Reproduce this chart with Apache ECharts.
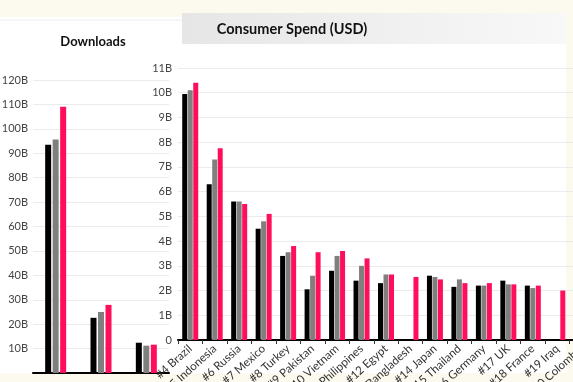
<!DOCTYPE html>
<html>
<head>
<meta charset="utf-8">
<script src="https://cdn.jsdelivr.net/npm/echarts@6/dist/echarts.min.js"></script>
<style>
html,body{margin:0;padding:0;background:#fcfaee;}
#chart{width:573px;height:382px;}
</style>
</head>
<body>
<div id="chart"></div>
<script>
// ---- Data ----
const seriesNames = ['2020', '2021', '2022'];
const seriesColors = ['#000000', '#7f7f7f', '#ff0f5b'];

// Downloads: top 3 markets (labels not visible in the reference)
const topCategories = ['#1', '#2', '#3'];
const topBlack = [93.5, 22.6, 12.4];
const topGrey  = [95.6, 25.0, 11.2];
const topPink  = [109.0, 27.9, 11.6];
const topTicks = [0, 120, 10];

// Markets #4 – #20
const restCategories = ['#4 Brazil', '#5 Indonesia', '#6 Russia', '#7 Mexico', '#8 Turkey',
  '#9 Pakistan', '#10 Vietnam', '#11 Philippines', '#12 Egypt', '#13 Bangladesh',
  '#14 Japan', '#15 Thailand', '#16 Germany', '#17 UK', '#18 France', '#19 Iraq', '#20 Colombia'];
const restBlack = [9.95, 6.3, 5.6, 4.5, 3.4, 2.05, 2.8, 2.4, 2.3, null, 2.6, 2.15, 2.2, 2.4, 2.2, null, null];
const restGrey  = [10.1, 7.3, 5.6, 4.8, 3.55, 2.6, 3.4, 3.0, 2.65, null, 2.55, 2.45, 2.2, 2.25, 2.1, null, null];
const restPink  = [10.4, 7.75, 5.5, 5.1, 3.8, 3.55, 3.6, 3.3, 2.65, 2.55, 2.45, 2.3, 2.3, 2.25, 2.2, 2.0, null];
const restTicks = [0, 11, 1];

const FONT = 'Lato, "Open Sans", sans-serif';

const chart = echarts.init(document.getElementById('chart'), null, {renderer: 'canvas'});

function mkSeries(data, idx, axisIdx, width, gap) {
  return {
    type: 'bar', name: seriesNames[idx], data: data,
    xAxisIndex: axisIdx, yAxisIndex: axisIdx,
    barWidth: width, barGap: gap,
    itemStyle: {color: seriesColors[idx]},
    emphasis: {disabled: true},
    z: 3
  };
}

const option = {
  backgroundColor: '#fcfaee',
  animation: false,
  textStyle: {fontFamily: FONT},
  graphic: [
    {type: 'rect', silent: true, z: -10, shape: {x: 0, y: 17, width: 566, height: 356}, style: {fill: '#ffffff'}},
    {type: 'rect', silent: true, z: -9, shape: {x: 182, y: 13, width: 384, height: 31},
     style: {fill: new echarts.graphic.LinearGradient(0, 0, 1, 0, [
       {offset: 0, color: '#e6e6e6'}, {offset: 0.6, color: '#f1f1f1'}, {offset: 1, color: '#f8f8f8'}])}},
    {type: 'line', silent: true, z: -9, shape: {x1: 0, y1: 20, x2: 182, y2: 20}, style: {stroke: '#ececec', lineWidth: 1}}
  ],
  title: [
    {text: 'Downloads', left: 88, top: 30, textAlign: 'center',
     textStyle: {fontFamily: FONT, fontSize: 13, fontWeight: 'bold', color: '#111'}},
    {text: 'Consumer Spend (USD)', left: 287, top: 17, textAlign: 'center',
     textStyle: {fontFamily: FONT, fontSize: 14.5, fontWeight: 'bold', color: '#111'}}
  ],
  grid: [
    {left: 33, width: 136, top: 80, bottom: 9, containLabel: false, outerBoundsMode: 'none'},
    {left: 178, width: 416, top: 68, bottom: 42, containLabel: false, outerBoundsMode: 'none'}
  ],
  xAxis: [
    {type: 'category', gridIndex: 0, data: topCategories,
     axisLine: {show: true, lineStyle: {color: '#000', width: 2}},
     axisTick: {show: false}, axisLabel: {show: false}},
    {type: 'category', gridIndex: 1, data: restCategories,
     axisLine: {show: true, lineStyle: {color: '#000', width: 2}},
     axisTick: {show: true, alignWithLabel: false, length: 4, lineStyle: {color: '#333'}},
     axisLabel: {show: true, rotate: 42, interval: 0, fontSize: 11.5, color: '#333', margin: 7, fontFamily: FONT}}
  ],
  yAxis: [
    {type: 'value', gridIndex: 0, min: topTicks[0], max: topTicks[1], interval: topTicks[2],
     axisLine: {show: false}, axisTick: {show: false},
     splitLine: {lineStyle: {color: '#ebebeb', width: 1}},
     axisLabel: {showMinLabel: false, fontSize: 11, color: '#444', margin: 5, fontFamily: FONT,
       formatter: v => v === 0 ? '0' : v + 'B'}},
    {type: 'value', gridIndex: 1, min: restTicks[0], max: restTicks[1], interval: restTicks[2],
     axisLine: {show: false}, axisTick: {show: false},
     splitLine: {lineStyle: {color: '#ebebeb', width: 1}},
     axisLabel: {fontSize: 11, color: '#444', margin: 6, fontFamily: FONT,
       formatter: v => v === 0 ? '0' : v + 'B'}}
  ],
  series: [
    mkSeries(topBlack, 0, 0, 6, '25%'),
    mkSeries(topGrey, 1, 0, 6, '25%'),
    mkSeries(topPink, 2, 0, 6, '25%'),
    mkSeries(restBlack, 0, 1, 5, '10%'),
    mkSeries(restGrey, 1, 1, 5, '10%'),
    mkSeries(restPink, 2, 1, 5, '10%')
  ]
};
chart.setOption(option);
</script>
</body>
</html>
